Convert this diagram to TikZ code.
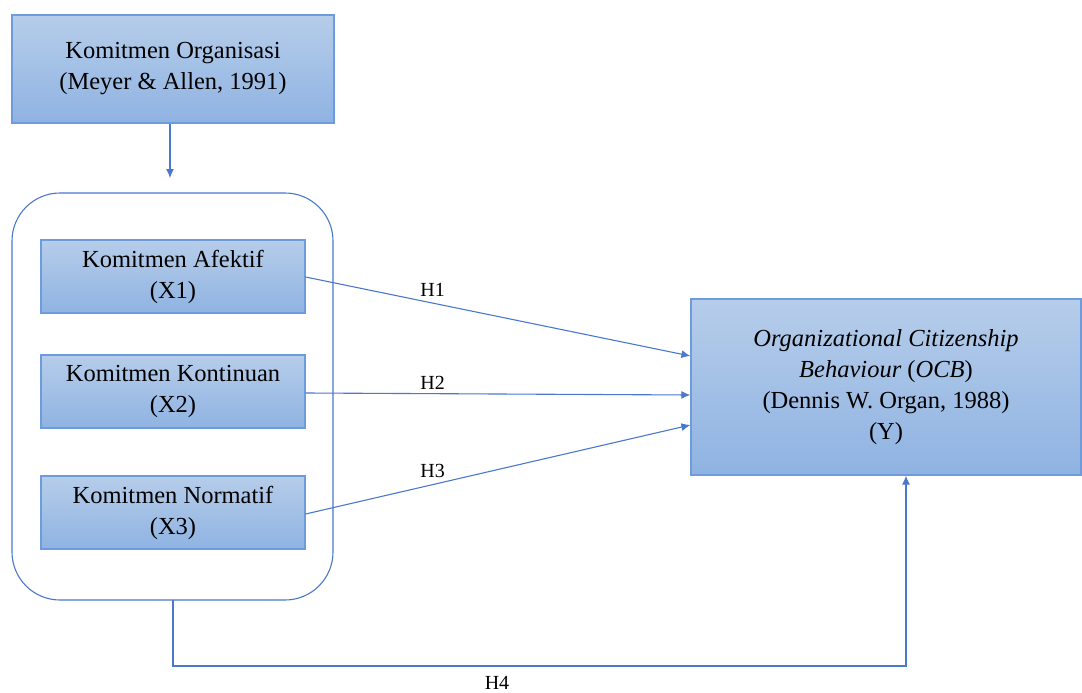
\documentclass[tikz,border=0pt]{standalone}
\usepackage{fontspec}
\setmainfont{Liberation Serif}
\usetikzlibrary{arrows.meta}
\definecolor{bordc}{HTML}{6E9BDB}
\definecolor{linec}{HTML}{4A78CC}
\definecolor{topc}{HTML}{B6CDEA}
\definecolor{botc}{HTML}{8FB3E2}
\tikzset{
  box/.style={draw=bordc, line width=1.2pt, top color=topc, bottom color=botc, align=center, inner sep=0pt, font=\fontsize{24.5}{31}\selectfont},
  conn/.style={draw=linec, line width=1.1pt, -{Latex[length=9pt,width=8pt]}},
  plain/.style={draw=linec, line width=1.1pt},
  hlab/.style={font=\fontsize{20}{24}\selectfont, inner sep=0pt}
}
\begin{document}
\begin{tikzpicture}[x=1pt,y=-1pt]
\useasboundingbox (0,0) rectangle (1082,693);
\node[box, minimum width=322pt, minimum height=108pt] (org) at (173,69) {Komitmen Organisasi\\(Meyer \& Allen, 1991)};
\draw[plain, rounded corners=48pt] (12,193) rectangle (333,600);
\coordinate (ctop) at (170,193);
\coordinate (cbot) at (173,600);
\node[box, minimum width=264pt, minimum height=73pt] (x1) at (173,276.5) {Komitmen Afektif\\(X1)};
\node[box, minimum width=264pt, minimum height=73pt] (x2) at (173,391.5) {Komitmen Kontinuan\\(X2)};
\node[box, minimum width=264pt, minimum height=73pt] (x3) at (173,512.5) {Komitmen Normatif\\(X3)};
\node[box, minimum width=390pt, minimum height=176pt] (y) at (886,387) {\textit{Organizational Citizenship}\\\textit{Behaviour} (\textit{OCB})\\(Dennis W. Organ, 1988)\\(Y)};
\draw[conn] (org.south -| ctop) -- (170,178);
\draw[conn] (x1.east |- 0,277) -- (y.west |- 0,356) node[hlab, pos=0.33, above=6pt] {H1};
\draw[conn] (x2.east |- 0,393) -- (y.west |- 0,395) node[hlab, pos=0.33, above=4pt] {H2};
\draw[conn] (x3.east |- 0,514) -- (y.west |- 0,425) node[hlab, pos=0.33, above=6pt] {H3};
\draw[conn] (cbot) -- (173,666) -- (906,666) -- (y.south -| 906,0);
\node[hlab] (h4) at (497,683) {H4};
\end{tikzpicture}
\end{document}
